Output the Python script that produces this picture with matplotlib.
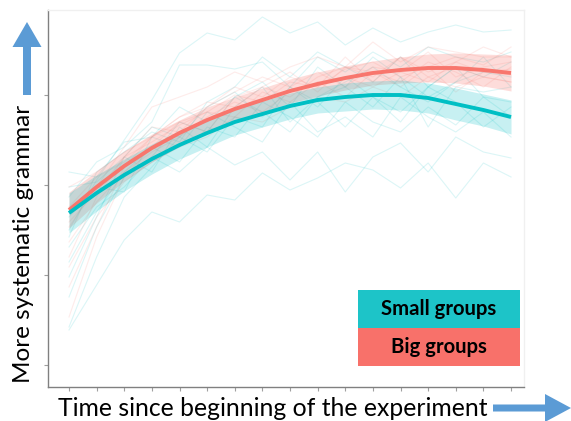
import numpy as np
import matplotlib
matplotlib.use("Agg")
import matplotlib.pyplot as plt
from matplotlib.patches import FancyArrow, Rectangle
from matplotlib.transforms import IdentityTransform

# ---- data (unit-less "systematicity" score) ----
time_points = list(range(17))

small_mean = [174, 194, 212, 228, 242, 254, 265, 273, 281, 287, 290, 292, 292, 289, 283, 277, 270]
small_se = [20, 18, 16, 15, 14, 14, 13, 13, 13, 13, 14, 14, 15, 15, 16, 16, 17]
big_mean = [177, 200, 221, 239, 254, 267, 278, 287, 296, 303, 309, 314, 317, 319, 319, 317, 314]
big_se = [18, 16, 15, 14, 13, 13, 12, 12, 12, 12, 12, 12, 13, 14, 15, 16, 18]

small_groups = [
    [157, 207, 247, 287, 334, 354, 347, 370, 354, 365, 342, 359, 345, 355, 362, 355, 357],
    [190, 225, 240, 265, 322, 322, 318, 325, 300, 330, 315, 335, 320, 340, 330, 325, 335],
    [57, 102, 147, 175, 165, 192, 187, 214, 197, 209, 224, 217, 199, 224, 189, 224, 210],
    [140, 180, 200, 230, 215, 240, 222, 235, 207, 235, 195, 230, 244, 215, 250, 235, 229],
    [110, 170, 230, 260, 250, 280, 295, 270, 300, 280, 310, 290, 265, 300, 320, 290, 285],
    [200, 205, 230, 215, 260, 240, 280, 300, 265, 290, 300, 280, 310, 260, 300, 295, 300],
    [90, 160, 210, 230, 265, 255, 290, 305, 280, 320, 300, 330, 310, 290, 305, 330, 300],
    [170, 200, 195, 250, 240, 275, 260, 245, 285, 255, 270, 250, 290, 270, 255, 275, 250],
    [60, 130, 190, 220, 250, 235, 270, 260, 300, 285, 260, 290, 275, 300, 285, 260, 280],
    [150, 215, 235, 255, 245, 285, 300, 330, 310, 335, 320, 305, 330, 300, 320, 310, 325],
    [215, 210, 245, 250, 280, 265, 290, 275, 255, 290, 305, 320, 300, 285, 305, 315, 310],
    [125, 175, 215, 240, 225, 260, 250, 285, 270, 250, 285, 265, 255, 280, 262, 290, 270],
]
big_groups = [
    [160, 200, 240, 280, 290, 300, 315, 305, 320, 330, 320, 345, 325, 340, 335, 330, 330],
    [100, 160, 220, 250, 270, 280, 295, 310, 300, 315, 300, 320, 315, 335, 310, 320, 325],
    [130, 190, 230, 260, 255, 280, 300, 290, 310, 300, 330, 305, 330, 315, 325, 340, 330],
    [70, 150, 210, 240, 265, 275, 270, 295, 285, 305, 290, 315, 300, 320, 295, 315, 318],
    [180, 210, 225, 250, 265, 255, 290, 300, 315, 295, 320, 310, 330, 310, 320, 310, 305],
    [145, 185, 215, 235, 250, 270, 285, 275, 295, 305, 310, 300, 315, 305, 325, 315, 312],
    [200, 215, 235, 250, 270, 285, 280, 300, 290, 310, 320, 315, 305, 325, 315, 300, 320],
    [120, 170, 205, 225, 240, 250, 270, 265, 280, 290, 285, 300, 290, 310, 300, 310, 305],
    [165, 195, 230, 245, 262, 275, 292, 285, 305, 300, 318, 325, 310, 320, 330, 322, 340],
]
y_ticks = [22, 112, 202, 292]

legend_labels = ["Small groups", "Big groups"]
x_label = "Time since beginning of the experiment"
y_label = "More systematic grammar"

TEAL = "#00BFC4"
RED = "#F8766D"
ARROW = "#5B9BD5"

W, H = 571, 421
fig = plt.figure(figsize=(W / 100, H / 100), dpi=100)
fig.patch.set_facecolor("white")
ax = fig.add_axes([48 / W, (H - 387) / H, (524 - 48) / W, (387 - 10) / H])

t = np.array(time_points)
for g in small_groups:
    ax.plot(t, g, color=TEAL, lw=0.8, alpha=0.14, zorder=1)
for g in big_groups:
    ax.plot(t, g, color=RED, lw=0.8, alpha=0.14, zorder=1)

sm, ss = np.array(small_mean), np.array(small_se)
bm, bs = np.array(big_mean), np.array(big_se)
ax.fill_between(t, bm - bs, bm + bs, color=RED, alpha=0.25, lw=0, zorder=2)
ax.fill_between(t, sm - ss, sm + ss, color=TEAL, alpha=0.22, lw=0, zorder=2)
ax.plot(t, bm, color=RED, lw=2.8, zorder=3, solid_capstyle="butt")
ax.plot(t, sm, color=TEAL, lw=2.8, zorder=4, solid_capstyle="butt")

ax.set_xlim(-0.76, 16.47)
ax.set_ylim(0, 377)
ax.set_xticks(time_points)
ax.set_yticks(y_ticks)
ax.set_xticklabels([])
ax.set_yticklabels([])
ax.tick_params(axis="both", direction="out", length=3, width=0.8, color="#a0a0a0")
for s in ["left", "bottom"]:
    ax.spines[s].set_color("#808080")
    ax.spines[s].set_linewidth(1.0)
for s in ["top", "right"]:
    ax.spines[s].set_color("#f0f0f0")
    ax.spines[s].set_linewidth(1.0)

# legend boxes
fam = ["Lato", "DejaVu Sans"]
fig.patches.append(Rectangle((358, H - 328), 162, 38, transform=IdentityTransform(),
                             facecolor="#1DC4C8", edgecolor="none", zorder=5))
fig.patches.append(Rectangle((358, H - 366), 162, 38, transform=IdentityTransform(),
                             facecolor="#F8716A", edgecolor="none", zorder=5))
fig.text(439 / W, (H - 309) / H, legend_labels[0], ha="center", va="center",
         fontsize=14.6, fontweight="bold", family=fam, color="black", zorder=6)
fig.text(439 / W, (H - 347) / H, legend_labels[1], ha="center", va="center",
         fontsize=14.6, fontweight="bold", family=fam, color="black", zorder=6)

# axis labels
fig.text(58 / W, (H - 409) / H, x_label, ha="left", va="center",
         fontsize=17.8, family=fam, color="black")
fig.text(24 / W, (H - 244) / H, y_label, ha="center", va="center", rotation=90,
         fontsize=17.5, family=fam, color="black")

# arrows (pixel coordinates)
fig.patches.append(FancyArrow(27, H - 95, 0, 73, width=8, head_width=29, head_length=25,
                              length_includes_head=True, transform=IdentityTransform(),
                              color=ARROW, lw=0))
fig.patches.append(FancyArrow(493, H - 408, 78, 0, width=7, head_width=28, head_length=26,
                              length_includes_head=True, transform=IdentityTransform(),
                              color=ARROW, lw=0))

fig.savefig("out.png", dpi=100)
